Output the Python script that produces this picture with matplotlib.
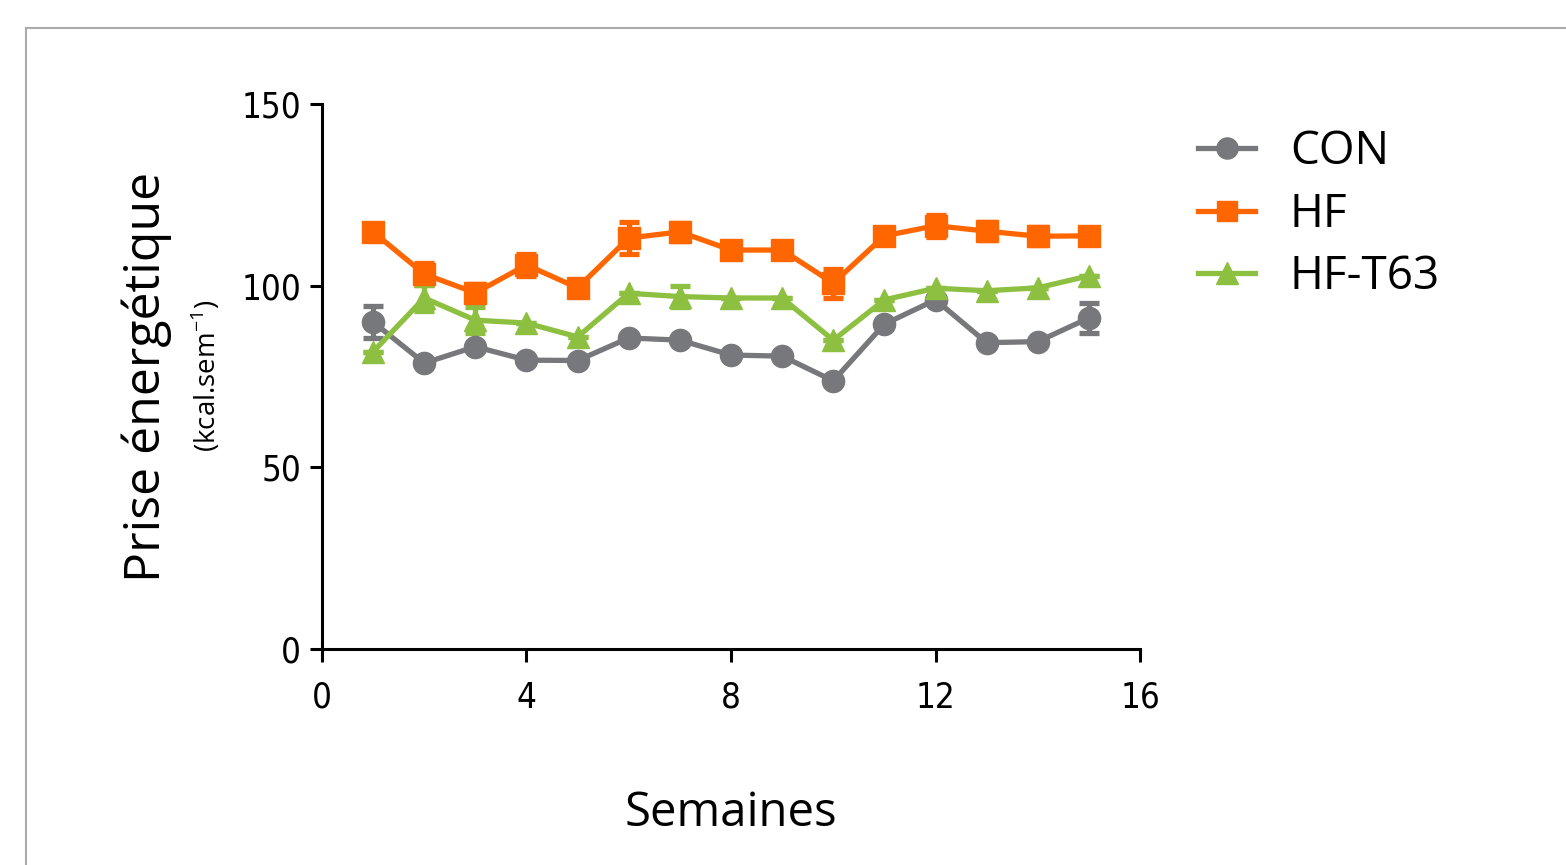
import matplotlib
matplotlib.use("Agg")
import matplotlib.pyplot as plt
from matplotlib.patches import Rectangle
from matplotlib.lines import Line2D

weeks = list(range(1, 16))
con = [90.0, 78.7, 83.2, 79.5, 79.4, 85.6, 85.0, 80.9, 80.6, 73.8, 89.4, 96.1, 84.3, 84.6, 91.1]
con_err = [4.5, 0, 0, 0, 0, 0, 0, 0, 0, 0, 0, 0, 0, 0, 4.0]
hf = [114.8, 103.2, 98.0, 105.7, 99.4, 113.1, 114.8, 109.8, 109.8, 100.7, 113.7, 116.5, 115.0, 113.6, 113.7]
hf_err = [0, 3.0, 2.5, 3.0, 0, 4.5, 2.5, 0, 0, 4.0, 0, 3.0, 2.5, 2.5, 0]
hft63 = [81.8, 96.6, 90.5, 89.7, 85.9, 97.9, 97.0, 96.6, 96.6, 85.0, 96.1, 99.3, 98.6, 99.4, 102.7]
hft63_err = [0, 3.5, 3.5, 0, 0, 0, 3.0, 0, 0, 0, 0, 0, 0, 0, 0]
labels = ["CON", "HF", "HF-T63"]
xticks = [0, 4, 8, 12, 16]
yticks = [0, 50, 100, 150]

c_gray = "#77787B"
c_orange = "#FF6600"
c_green = "#8DC040"

fig = plt.figure(figsize=(15.66, 8.65), dpi=100)
ax = fig.add_axes([0.2056, 0.2497, 0.5224, 0.6301])

series = [
    (con, con_err, c_gray, "o", 16, labels[0]),
    (hf, hf_err, c_orange, "s", 15.5, labels[1]),
    (hft63, hft63_err, c_green, "^", 16.5, labels[2]),
]
handles = []
for vals, err, col, mk, ms, lab in series:
    ax.errorbar(weeks, vals, yerr=err, color=col, fmt="none",
                elinewidth=3.8, capsize=7.5, capthick=3.8, zorder=2, clip_on=False)
    ax.plot(weeks, vals, color=col, marker=mk, markersize=ms, linewidth=3.8,
            zorder=3, clip_on=False)
    handles.append(Line2D([], [], color=col, marker=mk, markersize=ms * 0.95,
                          linewidth=3.8, label=lab))

ax.set_xlim(0, 16)
ax.set_ylim(0, 150)
ax.set_xticks(xticks)
ax.set_yticks(yticks)
for s in ["top", "right"]:
    ax.spines[s].set_visible(False)
for s in ["left", "bottom"]:
    ax.spines[s].set_linewidth(2.2)
ax.tick_params(axis="both", direction="out", length=9, width=2.2, labelsize=25)
ax.tick_params(axis="x", pad=14)
ax.tick_params(axis="y", pad=6)
for t in ax.get_xticklabels() + ax.get_yticklabels():
    t.set_fontstretch("condensed")

ax.set_xlabel("Semaines", fontsize=34, fontfamily="Open Sans", labelpad=54)
fig.text(0.094, 0.564, "Prise énergétique", rotation=90, fontsize=36,
         fontfamily="Open Sans", ha="center", va="center")
fig.text(0.132, 0.566, r"(kcal.sem$^{\mathregular{-1}}$)", rotation=90, fontsize=20,
         fontfamily="Open Sans", ha="center", va="center")

ax.legend(handles=handles, loc="upper left", bbox_to_anchor=(1.071, 0.954),
          borderaxespad=0, borderpad=0, frameon=False,
          handlelength=1.25, handletextpad=0.75, labelspacing=0.36,
          prop={"family": "Open Sans", "size": 33})

fig.add_artist(Rectangle((26 / 1566, -0.2), 1.2, 0.2 + 1 - 28 / 865,
                         transform=fig.transFigure, fill=False,
                         edgecolor="#AAAAAA", linewidth=1.5))

fig.savefig("out.png", dpi=100)
